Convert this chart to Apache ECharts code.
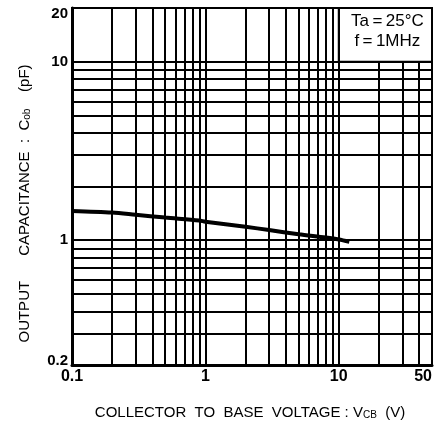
<!DOCTYPE html>
<html>
<head>
<meta charset="utf-8">
<script src="https://cdn.jsdelivr.net/npm/echarts@6/dist/echarts.min.js"></script>
<style>
html,body{margin:0;padding:0;background:#fff;}
#chart{width:439px;height:425px;}
</style>
</head>
<body>
<div id="chart"></div>
<script>
// Data
var vcb = [0.1, 0.2, 0.3, 0.5, 0.9, 1, 2, 3, 5, 8, 10, 12];
var cob = [1.46, 1.43, 1.39, 1.34, 1.29, 1.27, 1.19, 1.14, 1.08, 1.035, 1.01, 0.98];

var xTickLabels = [0.1, 1, 10, 50];
var yTickLabels = [0.2, 1, 10, 20];

var xGridFull = [0.2, 0.3, 0.4, 0.5, 0.6, 0.7, 0.8, 0.9, 1, 2, 3, 4, 5, 6, 7, 8, 9, 10];
var xGridShort = [20, 30, 40];      // stop below the condition box
var yGrid = [0.3, 0.4, 0.5, 0.6, 0.7, 0.8, 0.9, 1, 2, 3, 4, 5, 6, 7, 8, 9, 10];

var xMin = 0.1, xMax = 50, yMin = 0.2, yMax = 20;
var boxFrom = [10, 10], boxTo = [50, 20];
var conditionText = 'Ta\u2009=\u200925\u00b0C\nf\u2009=\u20091MHz';

var gridLineStyle = {color: '#000', width: 2, type: 'solid'};

var markLines = [];
xGridFull.forEach(function (v) { markLines.push({xAxis: v}); });
xGridShort.forEach(function (v) { markLines.push([{coord: [v, yMin]}, {coord: [v, boxFrom[1]]}]); });
yGrid.forEach(function (v) { markLines.push({yAxis: v}); });

function fmt(v) { return String(+Number(v).toPrecision(3)); }

var labelFont = 'Liberation Sans, Arial, sans-serif';
var nameFont = 'Liberation Sans, Arial, sans-serif';

var chart = echarts.init(document.getElementById('chart'));
chart.setOption({
  animation: false,
  backgroundColor: '#fff',
  grid: {left: 72, right: 7, top: 8, bottom: 60, show: true, borderColor: '#000', borderWidth: 2, backgroundColor: 'transparent'},
  xAxis: {
    type: 'log', logBase: 10, min: xMin, max: xMax,
    axisLine: {show: true, lineStyle: {color: '#000', width: 3}},
    axisTick: {show: false},
    splitLine: {show: false},
    minorSplitLine: {show: false},
    axisLabel: {
      customValues: xTickLabels,
      formatter: function (v) { return fmt(v); },
      color: '#000', fontFamily: labelFont, fontWeight: 'bold', fontSize: 16, margin: 4,
      alignMaxLabel: 'right'
    },
    name: '{a|COLLECTOR  TO  BASE  VOLTAGE : V}{s|CB}{a|  (V)}',
    nameLocation: 'middle', nameGap: 40,
    nameTextStyle: {
      padding: [0, 4, 0, 0],
      rich: {
        a: {fontFamily: nameFont, fontSize: 15, color: '#000'},
        s: {fontFamily: nameFont, fontSize: 10, color: '#000', verticalAlign: 'bottom', padding: [4, 0, 0, 0]}
      }
    }
  },
  yAxis: {
    type: 'log', logBase: 10, min: yMin, max: yMax,
    axisLine: {show: true, lineStyle: {color: '#000', width: 3}},
    axisTick: {show: false},
    splitLine: {show: false},
    minorSplitLine: {show: false},
    axisLabel: {
      customValues: yTickLabels,
      formatter: function (v) {
        var s = fmt(v);
        if (Math.abs(v - yMax) < 1e-9) return '{t|' + s + '}';
        if (Math.abs(v - yMin) < 1e-9) return '{b|' + s + '}';
        return s;
      },
      rich: {
        t: {fontFamily: labelFont, fontWeight: 'bold', fontSize: 15, color: '#000', padding: [12, 0, 0, 0]},
        b: {fontFamily: labelFont, fontWeight: 'bold', fontSize: 15, color: '#000', padding: [0, 0, 8, 0]}
      },
      color: '#000', fontFamily: labelFont, fontWeight: 'bold', fontSize: 15, margin: 4
    },
    name: '{a|OUTPUT      CAPACITANCE  :  C}{s|ob}{a|    (pF)}',
    nameLocation: 'middle', nameGap: 40, nameRotate: 90,
    nameTextStyle: {
      padding: [0, 34, 0, 0],
      rich: {
        a: {fontFamily: nameFont, fontSize: 15, color: '#000'},
        s: {fontFamily: nameFont, fontSize: 10, color: '#000', verticalAlign: 'bottom', padding: [4, 0, 0, 0]}
      }
    }
  },
  series: [
    {
      type: 'line',
      data: vcb.map(function (x, i) { return [x, cob[i]]; }),
      showSymbol: false,
      smooth: 0.3,
      lineStyle: {color: '#000', width: 4},
      z: 10,
      markLine: {
        silent: true, symbol: 'none', label: {show: false},
        lineStyle: gridLineStyle, animation: false,
        data: markLines
      },
      markArea: {
        silent: true,
        itemStyle: {color: '#fff', borderColor: '#000', borderWidth: 2},
        label: {
          show: true, position: 'inside', color: '#000',
          fontFamily: 'Liberation Sans, Arial, sans-serif', fontSize: 17, lineHeight: 20,
          offset: [2, -4]
        },
        data: [[{coord: boxFrom, name: conditionText}, {coord: boxTo}]]
      }
    }
  ]
});
</script>
</body>
</html>
